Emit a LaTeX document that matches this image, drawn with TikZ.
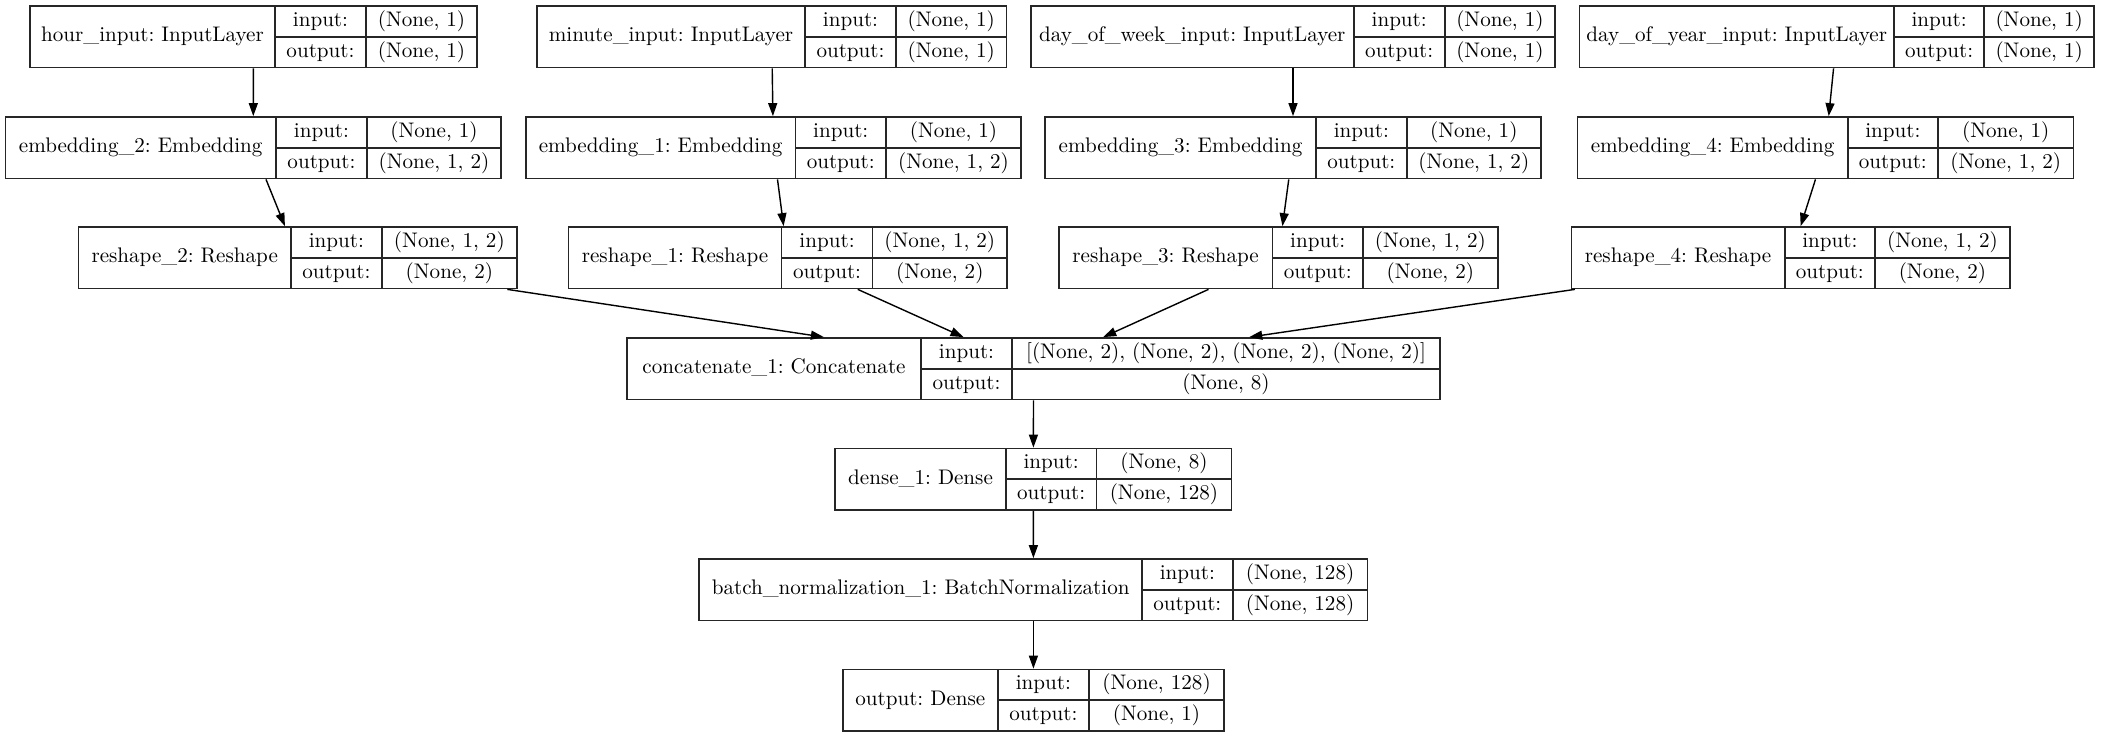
\documentclass[tikz,border=0pt]{standalone}
\usepackage{tikz}
\usetikzlibrary{arrows.meta, fit}
\frenchspacing
\newcommand{\kerasLayer}[9]{%
  \node[layerbox, fit={(#2,#6) (#5,#6+61.5)}] (#1) {};
  \draw[cellline] (#3,#6) -- (#3,#6+61.5) (#4,#6) -- (#4,#6+61.5)
    (#3,#6+30.75) -- (#5,#6+30.75);
  \node[cell] (#1-name) at ({(#2+#3)/2},#6+30.75) {#7};
  \node[cell] (#1-inl) at ({(#3+#4)/2},#6+15.4) {input:};
  \node[cell] (#1-outl) at ({(#3+#4)/2},#6+46.1) {output:};
  \node[cell] (#1-inv) at ({(#4+#5)/2},#6+15.4) {#8};
  \node[cell] (#1-outv) at ({(#4+#5)/2},#6+46.1) {#9};
}

\begin{document}
\begin{tikzpicture}[
      x=0.01cm, y=-0.01cm,
      layerbox/.style={rectangle, draw=black!85, line width=0.5pt, inner sep=0pt},
      cellline/.style={draw=black!85, line width=0.5pt},
      cell/.style={inner sep=0pt, font=\normalsize, scale=0.6,
                   text height=1.55ex, text depth=0.45ex},
      arr/.style={-{Triangle[length=0.13cm, width=0.09cm]}, line width=0.4pt, black}
    ]
      \useasboundingbox (0,0) rectangle (2101,737);
      \kerasLayer{hour}{30}{275}{366}{477}{6}{hour\_input: InputLayer}{(None, 1)}{(None, 1)}
      \kerasLayer{minute}{537}{805}{896}{1006.5}{6}{minute\_input: InputLayer}{(None, 1)}{(None, 1)}
      \kerasLayer{dow}{1031}{1353.6}{1444.8}{1555}{6}{day\_of\_week\_input: InputLayer}{(None, 1)}{(None, 1)}
      \kerasLayer{doy}{1579.5}{1894}{1984.3}{2094}{6}{day\_of\_year\_input: InputLayer}{(None, 1)}{(None, 1)}
      \kerasLayer{emb2}{5.4}{276}{367}{501}{117}{embedding\_2: Embedding}{(None, 1)}{(None, 1, 2)}
      \kerasLayer{emb1}{525.7}{795.5}{886}{1021}{117}{embedding\_1: Embedding}{(None, 1)}{(None, 1, 2)}
      \kerasLayer{emb3}{1045}{1316}{1406.6}{1541}{117}{embedding\_3: Embedding}{(None, 1)}{(None, 1, 2)}
      \kerasLayer{emb4}{1577.5}{1847.6}{1938}{2073.5}{117}{embedding\_4: Embedding}{(None, 1)}{(None, 1, 2)}
      \kerasLayer{res2}{78.4}{291}{381.7}{517}{227}{reshape\_2: Reshape}{(None, 1, 2)}{(None, 2)}
      \kerasLayer{res1}{568.5}{781.5}{872.6}{1007}{227}{reshape\_1: Reshape}{(None, 1, 2)}{(None, 2)}
      \kerasLayer{res3}{1058.7}{1272.5}{1363}{1497.7}{227}{reshape\_3: Reshape}{(None, 1, 2)}{(None, 2)}
      \kerasLayer{res4}{1571.4}{1784.6}{1875}{2009.8}{227}{reshape\_4: Reshape}{(None, 1, 2)}{(None, 2)}
      \kerasLayer{concat}{627}{921}{1012}{1440}{338}{concatenate\_1: Concatenate}{[(None, 2), (None, 2), (None, 2), (None, 2)]}{(None, 8)}
      \kerasLayer{dense}{835.3}{1005.8}{1096.5}{1231.4}{448.5}{dense\_1: Dense}{(None, 8)}{(None, 128)}
      \kerasLayer{bn}{699.3}{1142}{1232.6}{1367.5}{559}{batch\_normalization\_1: BatchNormalization}{(None, 128)}{(None, 128)}
      \kerasLayer{out}{842.8}{997.8}{1089}{1224}{669.5}{output: Dense}{(None, 128)}{(None, 1)}
      \draw[arr] (hour) -- (emb2);
      \draw[arr] (minute) -- (emb1);
      \draw[arr] (dow) -- (emb3);
      \draw[arr] (doy) -- (emb4);
      \draw[arr] (emb2) -- (res2);
      \draw[arr] (emb1) -- (res1);
      \draw[arr] (emb3) -- (res3);
      \draw[arr] (emb4) -- (res4);
      \draw[arr] (res2) -- (concat);
      \draw[arr] (res1) -- (concat);
      \draw[arr] (res3) -- (concat);
      \draw[arr] (res4) -- (concat);
      \draw[arr] (concat) -- (dense);
      \draw[arr] (dense) -- (bn);
      \draw[arr] (bn) -- (out);
    \end{tikzpicture}
\end{document}
